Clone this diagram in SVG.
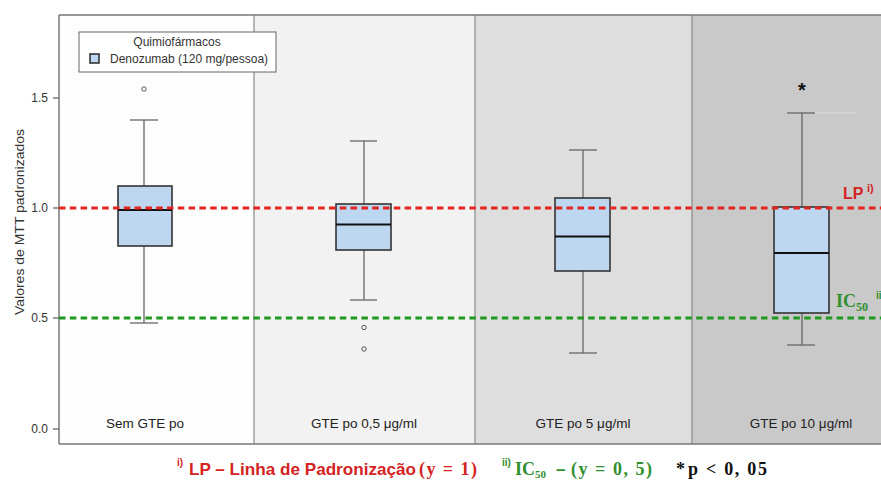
<svg xmlns="http://www.w3.org/2000/svg" width="881" height="480" viewBox="0 0 881 480">
<style>
.ax{font-family:"Liberation Sans",Arial,sans-serif;font-size:12px;fill:#333}
.cat{font-family:"Liberation Sans",Arial,sans-serif;font-size:13.5px;fill:#222;text-anchor:middle}
.box{fill:#bdd7f0;stroke:#333;stroke-width:1.6}
.med{stroke:#111;stroke-width:2}
.wh{stroke:#666;stroke-width:1.3;fill:none}
.out{fill:none;stroke:#555;stroke-width:1}
.div{stroke:#8a8a8a;stroke-width:1.2}
.red{fill:#d42323}
.grn{fill:#2f8f2f}
.sans{font-family:"Liberation Sans",Arial,sans-serif;font-weight:bold}
.serif{font-family:"Liberation Serif","Times New Roman",serif;font-weight:bold}
</style>
<rect x="0" y="0" width="881" height="480" fill="#ffffff"/>
<g id="panels">
<rect x="59" y="15" width="195" height="429" fill="#fdfdfd"/>
<rect x="254" y="15" width="221" height="429" fill="#f2f2f2"/>
<rect x="475" y="15" width="217" height="429" fill="#dedede"/>
<rect x="692" y="15" width="189" height="429" fill="#c9c9c9"/>
<line class="div" x1="254" y1="15" x2="254" y2="444"/>
<line class="div" x1="475" y1="15" x2="475" y2="444"/>
<line class="div" x1="692" y1="15" x2="692" y2="444"/>
<line x1="59" y1="15" x2="881" y2="15" stroke="#777" stroke-width="1.5"/>
<line x1="59" y1="444" x2="881" y2="444" stroke="#777" stroke-width="1.5"/>
<line x1="59" y1="15" x2="59" y2="444" stroke="#666" stroke-width="1.3"/>
</g>
<g id="axis">
<line class="wh" x1="53" y1="98" x2="59" y2="98"/>
<line class="wh" x1="53" y1="208" x2="59" y2="208"/>
<line class="wh" x1="53" y1="318" x2="59" y2="318"/>
<line class="wh" x1="53" y1="429" x2="59" y2="429"/>
<text class="ax" x="48" y="102" text-anchor="end">1.5</text>
<text class="ax" x="48" y="212" text-anchor="end">1.0</text>
<text class="ax" x="48" y="322" text-anchor="end">0.5</text>
<text class="ax" x="48" y="433" text-anchor="end">0.0</text>
<text class="ax" x="24" y="222" font-size="14.5" text-anchor="middle" textLength="186" lengthAdjust="spacingAndGlyphs" transform="rotate(-90 24 222)">Valores de MTT padronizados</text>
</g>
<g id="legend">
<rect x="79" y="32" width="197" height="40" fill="#ffffff" stroke="#666" stroke-width="1"/>
<text class="ax" x="177" y="46" text-anchor="middle" fill="#222">Quimiofármacos</text>
<rect x="90" y="54" width="9" height="9" class="box" stroke-width="1"/>
<text class="ax" x="110" y="63" fill="#222">Denozumab (120 mg/pessoa)</text>
</g>
<g id="box1">
<line class="wh" x1="144" y1="120" x2="144" y2="186"/>
<line class="wh" x1="130" y1="120" x2="158" y2="120"/>
<line class="wh" x1="144" y1="246" x2="144" y2="323"/>
<line class="wh" x1="130" y1="323" x2="158" y2="323"/>
<rect class="box" x="118" y="186" width="54" height="60"/>
<line class="med" x1="118" y1="210" x2="172" y2="210"/>
<circle class="out" cx="144" cy="89" r="2.2"/>
<text class="cat" x="145" y="428">Sem GTE po</text>
</g>
<g id="box2">
<line class="wh" x1="364" y1="141" x2="364" y2="204"/>
<line class="wh" x1="350" y1="141" x2="377" y2="141"/>
<line class="wh" x1="364" y1="250" x2="364" y2="300"/>
<line class="wh" x1="350" y1="300" x2="377" y2="300"/>
<rect class="box" x="336" y="204" width="55" height="46"/>
<line class="med" x1="336" y1="224.5" x2="391" y2="224.5"/>
<circle class="out" cx="364" cy="327.5" r="2.2"/>
<circle class="out" cx="364" cy="349" r="2.2"/>
<text class="cat" x="364" y="428">GTE po 0,5 μg/ml</text>
</g>
<g id="box3">
<line class="wh" x1="583" y1="150" x2="583" y2="198"/>
<line class="wh" x1="569" y1="150" x2="597" y2="150"/>
<line class="wh" x1="583" y1="271" x2="583" y2="353"/>
<line class="wh" x1="569" y1="353" x2="597" y2="353"/>
<rect class="box" x="555" y="198" width="55" height="73"/>
<line class="med" x1="555" y1="236.5" x2="610" y2="236.5"/>
<text class="cat" x="583" y="428">GTE po 5 μg/ml</text>
</g>
<g id="box4">
<line x1="815" y1="113" x2="857" y2="113" stroke="#dedede" stroke-width="1.2"/>
<line class="wh" x1="802" y1="113" x2="802" y2="207"/>
<line class="wh" x1="787" y1="113" x2="815" y2="113"/>
<line class="wh" x1="802" y1="313" x2="802" y2="345"/>
<line class="wh" x1="787" y1="345" x2="815" y2="345"/>
<rect class="box" x="774" y="207" width="55" height="106"/>
<line class="med" x1="774" y1="253" x2="829" y2="253"/>
<text x="802" y="97" text-anchor="middle" class="sans" font-size="20" fill="#111">*</text>
<text class="cat" x="801" y="428">GTE po 10 μg/ml</text>
</g>
<g id="reflines">
<line x1="59" y1="208" x2="881" y2="208" stroke="#e4241e" stroke-width="3" stroke-dasharray="6.5 4.3"/>
<line x1="59" y1="318" x2="881" y2="318" stroke="#1e9a1e" stroke-width="3" stroke-dasharray="6.5 4.3"/>
<text class="sans red" x="843" y="199" font-size="16">LP<tspan x="867" y="192" font-size="11">i)</tspan></text>
<text class="serif grn" x="836" y="307" font-size="18">IC<tspan font-size="12" dy="4">50</tspan><tspan class="sans" x="876" y="299" font-size="10">ii</tspan></text>
</g>
<g id="caption">
<text class="sans red" x="177" y="466" font-size="10">i)</text>
<text class="sans red" x="189" y="475" font-size="17" textLength="227" lengthAdjust="spacingAndGlyphs">LP – Linha de Padronização</text>
<text class="serif red" x="419" y="475" font-size="18" textLength="58" lengthAdjust="spacing">(y = 1)</text>
<text class="sans grn" x="502" y="466" font-size="10">ii)</text>
<text class="serif grn" x="515" y="475" font-size="18">IC<tspan font-size="11" dy="3">50</tspan></text>
<text class="sans grn" x="556" y="475" font-size="17">–</text>
<text class="serif grn" x="571" y="475" font-size="18" textLength="81" lengthAdjust="spacing">(y = 0, 5)</text>
<text class="serif" x="676" y="475" font-size="18" fill="#111">*</text>
<text class="serif" x="688" y="475" font-size="18" fill="#111" textLength="79" lengthAdjust="spacing">p &lt; 0, 05</text>
</g>
</svg>
